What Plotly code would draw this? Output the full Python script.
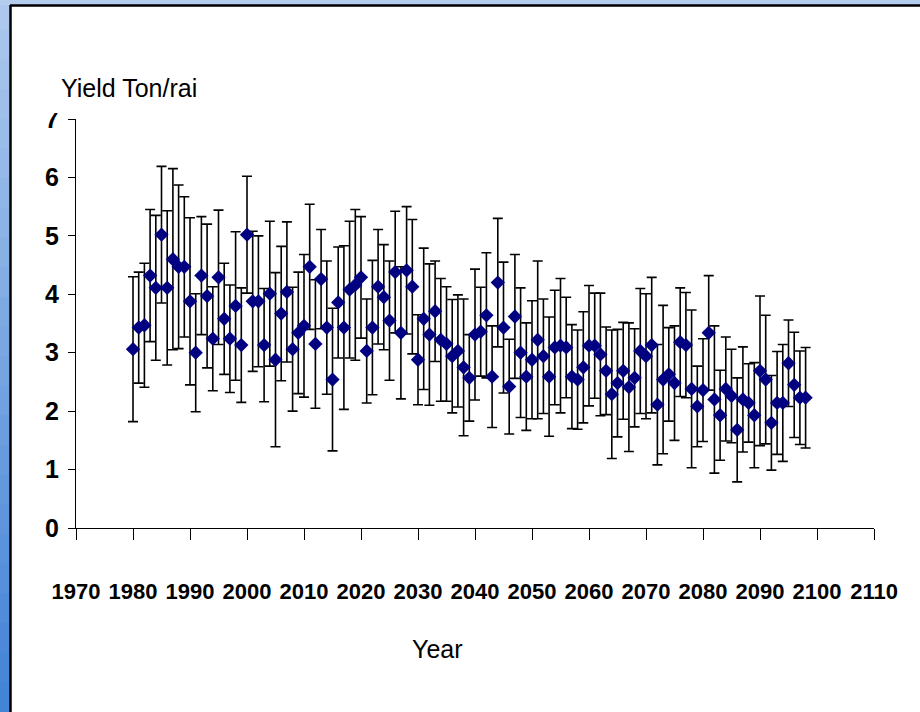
import plotly.graph_objects as go

years = list(range(1980, 2099))
yield_ton_rai = [
    3.06, 3.43, 3.47, 4.32, 4.11, 5.02, 4.11, 4.60, 4.47, 4.47,
    3.88, 3.00, 4.32, 3.97, 3.24, 4.29, 3.58, 3.24, 3.80, 3.13,
    5.02, 3.88, 3.88, 3.13, 4.01, 2.88, 3.67, 4.04, 3.06, 3.34,
    3.46, 4.47, 3.15, 4.26, 3.43, 2.54, 3.86, 3.43, 4.08, 4.16,
    4.29, 3.03, 3.43, 4.13, 3.95, 3.55, 4.38, 3.34, 4.41, 4.13,
    2.88, 3.58, 3.31, 3.71, 3.22, 3.15, 2.94, 3.03, 2.75, 2.57,
    3.31, 3.36, 3.64, 2.59, 4.20, 3.43, 2.42, 3.62, 3.00, 2.59,
    2.88, 3.22, 2.94, 2.59, 3.09, 3.12, 3.09, 2.59, 2.54, 2.75,
    3.12, 3.12, 2.97, 2.69, 2.29, 2.48, 2.69, 2.41, 2.57, 3.03,
    2.94, 3.13, 2.11, 2.54, 2.63, 2.48, 3.18, 3.13, 2.38, 2.08,
    2.36, 3.34, 2.20, 1.93, 2.38, 2.26, 1.68, 2.20, 2.14, 1.93,
    2.69, 2.54, 1.80, 2.14, 2.14, 2.82, 2.45, 2.23, 2.23,
]
error_sd = [
    1.24, 0.95, 1.06, 1.13, 1.24, 1.17, 1.32, 1.55, 1.40, 1.20,
    1.43, 1.01, 1.01, 1.23, 0.89, 1.15, 0.95, 0.92, 1.27, 0.98,
    1.00, 1.20, 1.12, 0.97, 1.24, 1.49, 1.15, 1.20, 1.06, 1.04,
    1.22, 1.07, 1.10, 0.85, 1.14, 1.22, 0.95, 1.40, 1.17, 1.29,
    1.04, 0.89, 1.15, 0.98, 0.90, 1.02, 1.04, 1.13, 1.09, 1.15,
    0.77, 1.21, 1.21, 0.86, 1.05, 0.98, 0.97, 0.96, 1.17, 0.74,
    1.12, 0.76, 1.07, 0.87, 1.10, 1.12, 0.81, 1.06, 1.11, 0.92,
    1.01, 1.35, 0.98, 1.02, 0.98, 1.15, 0.86, 0.89, 0.85, 0.95,
    1.03, 0.90, 1.05, 0.75, 1.10, 0.92, 0.83, 1.10, 0.84, 1.07,
    1.07, 1.16, 1.03, 1.27, 0.80, 0.98, 0.93, 0.90, 1.35, 0.69,
    0.88, 0.98, 1.26, 0.77, 0.89, 0.80, 0.89, 0.90, 0.67, 0.90,
    1.28, 1.10, 0.81, 0.88, 1.00, 0.74, 0.90, 0.80, 0.86,
]
x_ticks = list(range(1970, 2111, 10))
y_ticks = list(range(0, 8))

W, H = 920, 712
ML, MR, MT, MB = 76, 46, 119, 184
PW, PH = W - ML - MR, H - MT - MB

def px(x):
    return (x - ML) / PW

def py(y):
    return 1 - (y - MT) / PH

fig = go.Figure()
fig.add_trace(go.Scatter(
    x=years, y=yield_ton_rai, mode="markers",
    marker=dict(symbol="diamond", size=11, color="#000080", line=dict(width=0)),
    error_y=dict(type="data", array=error_sd, visible=True,
                 color="black", thickness=1.6, width=5),
    showlegend=False,
))

shapes = []
# left gradient strip
n = 24
for i in range(n):
    t = i / (n - 1)
    r = int(172 + (68 - 172) * t)
    g = int(200 + (132 - 200) * t)
    b = int(238 + (214 - 238) * t)
    y0 = i * H / n
    y1 = (i + 1) * H / n + 1
    shapes.append(dict(type="rect", xref="paper", yref="paper",
                       x0=px(0), x1=px(10), y0=py(y1), y1=py(y0),
                       fillcolor=f"rgb({r},{g},{b})", line=dict(width=0), layer="above"))
# top strip
shapes.append(dict(type="rect", xref="paper", yref="paper",
                   x0=px(0), x1=px(W), y0=py(5), y1=py(0),
                   fillcolor="rgb(180,205,238)", line=dict(width=0), layer="above"))
# black border
shapes.append(dict(type="line", xref="paper", yref="paper",
                   x0=px(10), x1=px(W), y0=py(5.5), y1=py(5.5),
                   line=dict(color="black", width=2.5), layer="above"))
shapes.append(dict(type="line", xref="paper", yref="paper",
                   x0=px(10.5), x1=px(10.5), y0=py(5), y1=py(H),
                   line=dict(color="black", width=2.5), layer="above"))
# clip top of the "7" label
shapes.append(dict(type="rect", xref="paper", yref="paper",
                   x0=px(30), x1=px(68), y0=py(113), y1=py(100),
                   fillcolor="white", line=dict(width=0), layer="above"))

fig.update_layout(
    width=W, height=H,
    margin=dict(l=ML, r=MR, t=MT, b=MB, autoexpand=False),
    paper_bgcolor="white", plot_bgcolor="white",
    font=dict(family="Liberation Sans, Arial, sans-serif", color="black"),
    shapes=shapes,
    xaxis=dict(range=[1970, 2110], tickvals=x_ticks, showgrid=False, zeroline=False,
               showline=True, linecolor="black", linewidth=1,
               ticks="outside", ticklen=11, tickcolor="black", tickwidth=1,
               ticklabelstandoff=33, tickangle=0,
               tickfont=dict(family="Liberation Sans, Arial, sans-serif",
                             size=22, weight="bold", color="black")),
    yaxis=dict(range=[0, 7], tickvals=y_ticks, showgrid=False, zeroline=False,
               showline=True, linecolor="black", linewidth=1,
               ticks="outside", ticklen=7, tickcolor="black", tickwidth=1,
               ticklabelstandoff=4,
               tickfont=dict(family="Liberation Sans, Arial, sans-serif",
                             size=25, weight="bold", color="black")),
    annotations=[
        dict(text="Yield Ton/rai", xref="paper", yref="paper",
             x=px(59), y=py(88), xanchor="left", yanchor="middle",
             showarrow=False, font=dict(size=25, color="black")),
        dict(text="Year", xref="paper", yref="paper",
             x=px(437), y=py(649), xanchor="center", yanchor="middle",
             showarrow=False, font=dict(size=25, color="black")),
    ],
)

fig.write_html("out.html")
